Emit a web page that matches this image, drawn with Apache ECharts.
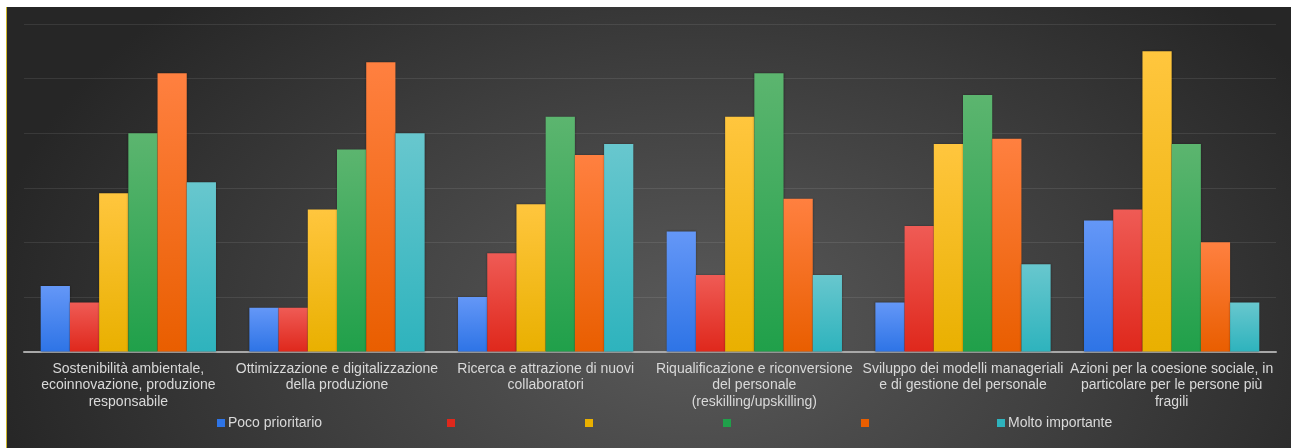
<!DOCTYPE html>
<html>
<head>
<meta charset="utf-8">
<script src="https://cdn.jsdelivr.net/npm/echarts@6/dist/echarts.min.js"></script>
<style>
  html, body { margin: 0; padding: 0; background: #ffffff; width: 1291px; height: 448px; overflow: hidden; }
  #frame {
    position: absolute; left: 6px; top: 7px; width: 1285px; height: 441px;
    border-left: 1px solid #cdb62c; box-sizing: border-box;
    background: radial-gradient(ellipse 720px 470px at 690px 320px, #5a5a5a 0%, #3e3e3e 55%, #262626 100%);
  }
  #chart { position: absolute; left: 0; top: 0; width: 1284px; height: 441px; }
</style>
</head>
<body>
<div id="frame"><div id="chart"></div></div>
<script>
// Priority areas (x-axis categories)
const categories = [
  'Sostenibilità ambientale,\necoinnovazione, produzione\nresponsabile',
  'Ottimizzazione e digitalizzazione\ndella produzione',
  'Ricerca e attrazione di nuovi\ncollaboratori',
  'Riqualificazione e riconversione\ndel personale\n(reskilling/upskilling)',
  'Sviluppo dei modelli manageriali\ne di gestione del personale',
  'Azioni per la coesione sociale, in\nparticolare per le persone più\nfragili'
];

// Number of answers per priority level (scale 1 = Poco prioritario ... 6 = Molto importante)
const level1 = [12, 8, 10, 22, 9, 24];
const level2 = [9, 8, 18, 14, 23, 26];
const level3 = [29, 26, 27, 43, 38, 55];
const level4 = [40, 37, 43, 51, 47, 38];
const level5 = [51, 53, 36, 28, 39, 20];
const level6 = [31, 40, 38, 14, 16, 9];

// Legend labels (only the two ends of the scale carry text)
const levelNames = ['Poco prioritario', 'Livello 2', 'Livello 3', 'Livello 4', 'Livello 5', 'Molto importante'];
const levelLabels = ['Poco prioritario', '', '', '', '', 'Molto importante'];

// Y axis scale
const yMax = 60;
const yStep = 10;

const levelData = [level1, level2, level3, level4, level5, level6];
const palette = [
  ['#6497f7', '#2e74e6'],
  ['#ef5b55', '#df281c'],
  ['#ffc63e', '#e9b000'],
  ['#5cb56f', '#20a04a'],
  ['#ff8040', '#e95e00'],
  ['#68c7ce', '#2eb3bd']
];
const legendLeft = [210, 440, 578, 716, 854, 990];
const fontFamily = 'Liberation Sans, Arial, sans-serif';

const series = levelData.map((vals, i) => ({
  name: levelNames[i],
  type: 'bar',
  data: vals,
  barGap: '0%',
  barCategoryGap: '16%',
  itemStyle: {
    color: new echarts.graphic.LinearGradient(0, 0, 0, 1, [
      { offset: 0, color: palette[i][0] },
      { offset: 1, color: palette[i][1] }
    ]),
    shadowColor: 'rgba(0,0,0,0.35)',
    shadowBlur: 2
  }
}));

const legends = levelNames.map((name, i) => {
  const hasText = levelLabels[i] !== '';
  return {
    data: [{ name: name, itemStyle: { color: palette[i][1] } }],
    left: legendLeft[i],
    top: hasText ? 409 : 412,
    padding: 0,
    itemWidth: 8,
    itemHeight: 8,
    icon: 'rect',
    selectedMode: false,
    formatter: () => levelLabels[i],
    textStyle: { color: '#d9d9d9', fontSize: 14, fontFamily: fontFamily, padding: [0, 0, 0, -2] }
  };
});

const chart = echarts.init(document.getElementById('chart'), null, { renderer: 'canvas' });
chart.setOption({
  backgroundColor: 'transparent',
  animation: false,
  grid: { left: 17, right: 15, top: 17, bottom: 96.5, containLabel: false },
  legend: legends,
  xAxis: {
    type: 'category',
    data: categories,
    axisLine: { show: true, lineStyle: { color: '#a8a8a8', width: 2 } },
    axisTick: { show: false },
    axisLabel: {
      interval: 0,
      margin: 9,
      color: '#d9d9d9',
      fontSize: 14,
      lineHeight: 16.5,
      fontFamily: fontFamily
    }
  },
  yAxis: {
    type: 'value',
    min: 0,
    max: yMax,
    interval: yStep,
    axisLine: { show: false },
    axisTick: { show: false },
    axisLabel: { show: false },
    splitLine: { show: true, lineStyle: { color: 'rgba(255,255,255,0.09)', width: 1 } }
  },
  series: series
});
</script>
</body>
</html>
